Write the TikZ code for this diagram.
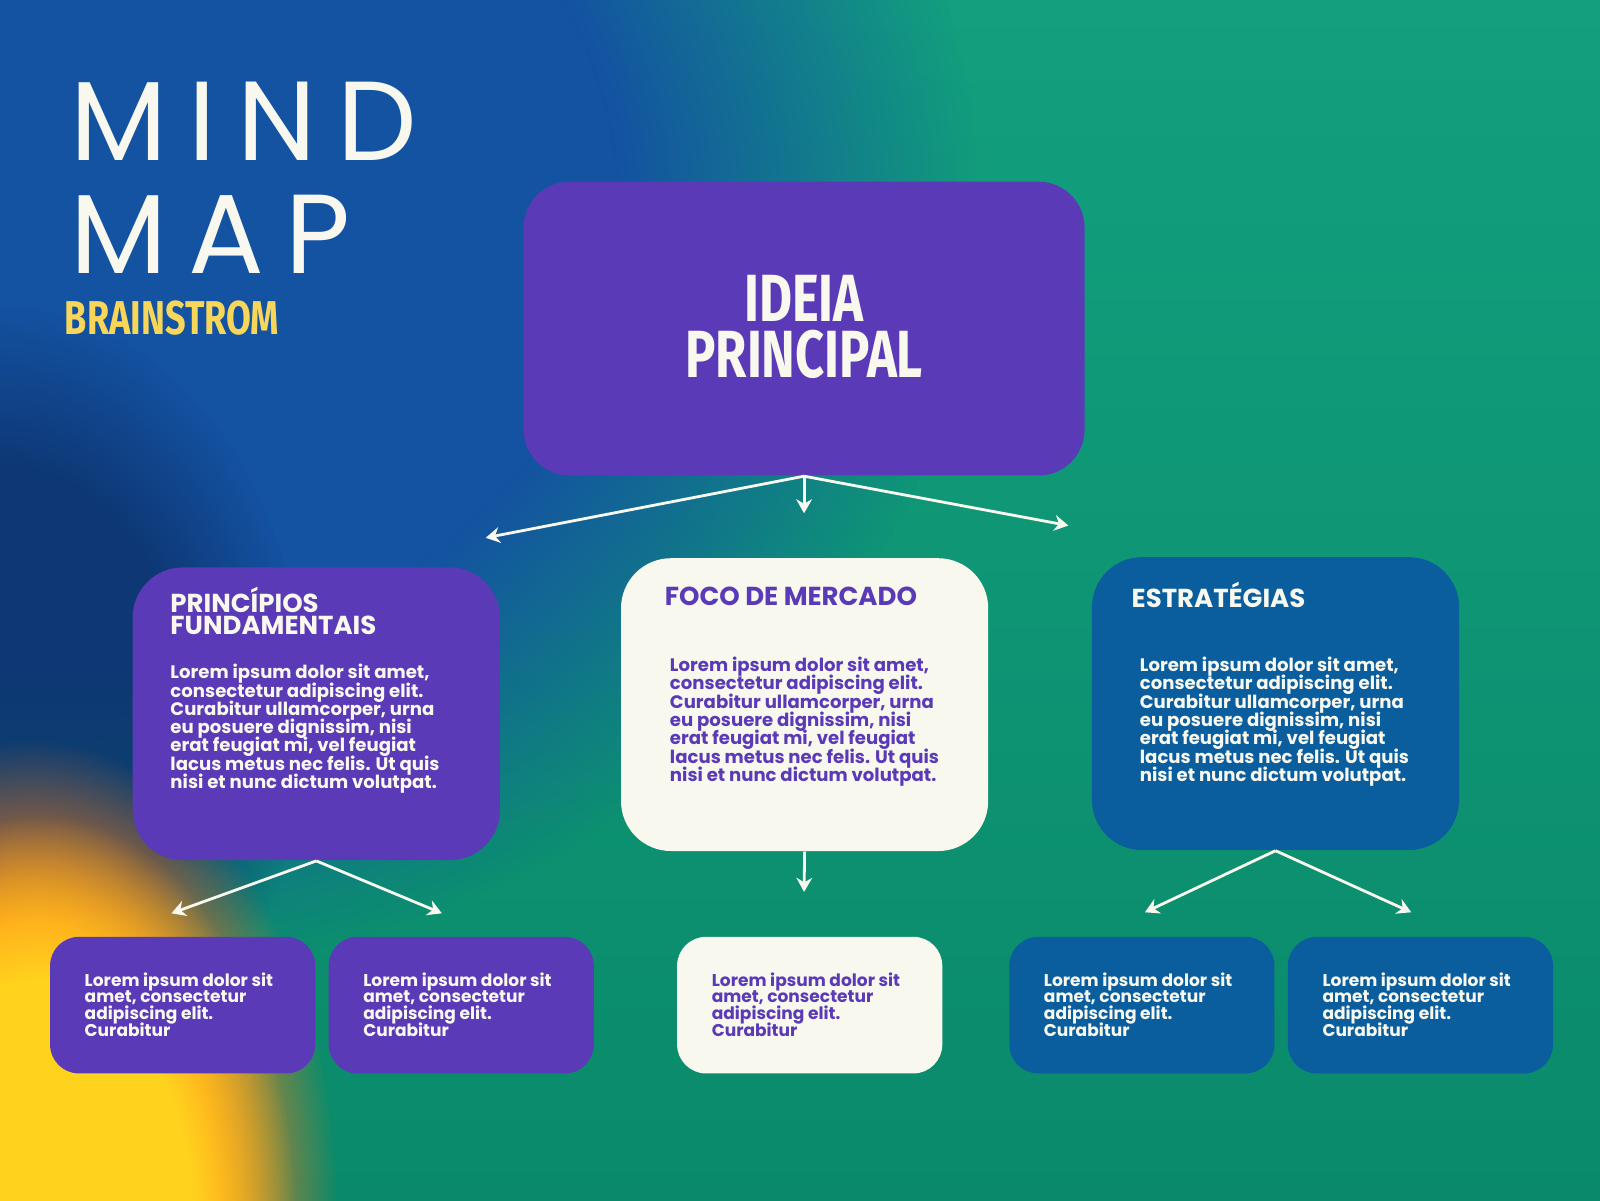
\documentclass[tikz,border=0pt]{standalone}
\usepackage{fontspec}
\usepackage{tikz}
\usetikzlibrary{arrows.meta,fadings}
\setmainfont{Poppins}
\newfontfamily\condfont[FakeStretch=0.76]{Fira Sans}
\newfontfamily\wordfont[LetterSpace=19]{Poppins}
\definecolor{mmpurple}{HTML}{5A3AB6}
\definecolor{mmblue}{HTML}{0A5E9E}
\definecolor{mmcream}{HTML}{F8F8EE}
\definecolor{mmyellow}{HTML}{F7D65A}
\definecolor{bggreen}{HTML}{12A07E}
\definecolor{bgdeep}{HTML}{0A8A6A}
\definecolor{bgblue}{HTML}{1452A2}
\definecolor{bgnavy}{HTML}{0B2D62}
\definecolor{sunorange}{HTML}{FF7A1A}
\definecolor{sunyellow}{HTML}{FFD21E}
\pgfdeclareradialshading{plateaushade}{\pgfpointorigin}{color(0bp)=(white); color(15bp)=(white); color(25bp)=(black); color(50bp)=(black)}
\pgfdeclarefading{plateau}{\pgfuseshading{plateaushade}}

\begin{document}
\lineskiplimit=-\maxdimen
\begin{tikzpicture}[x=0.010204cm,y=-0.010204cm,
		bigbox/.style={rounded corners=0.5cm,minimum width=3.673cm,minimum height=2.929cm,inner sep=0pt},
		smallbox/.style={rounded corners=0.29cm,minimum width=2.653cm,minimum height=1.367cm,inner sep=0pt},
		bigword/.style={inner sep=0pt,text=mmcream,text depth=0pt},
		headtext/.style={anchor=north west,inner sep=0pt,align=left,font=\fontsize{7.4}{6.4}\selectfont\bfseries},
		bodytext/.style={anchor=north west,inner sep=0pt,align=left,font=\fontsize{5.15}{5.2}\selectfont\bfseries},
		smalltext/.style={anchor=north west,inner sep=0pt,align=left,font=\fontsize{4.85}{4.75}\selectfont\bfseries},
		link/.style={draw=mmcream,line width=0.8pt,-{Stealth[length=4pt,width=4.5pt]}}]
	\useasboundingbox (0,0) rectangle (1568,1176);
	\begin{scope}
		\clip (0,0) rectangle (1568,1176);
		\shade[top color=bggreen,bottom color=bgdeep] (0,0) rectangle (1568,1176);
		\fill[bgblue,path fading=plateau] (60,200) ellipse [x radius=900,y radius=760];
		\fill[bgnavy,opacity=0.7,path fading=plateau] (0,700) ellipse [x radius=300,y radius=400];
		\fill[sunorange,path fading=plateau] (30,1176) ellipse [x radius=300,y radius=450];
		\fill[sunyellow,path fading=plateau] (40,1200) ellipse [x radius=250,y radius=400];
	\end{scope}

	\node[bigword,anchor=base west,font=\wordfont\fontsize{32}{32}\selectfont] (mind) at (68,157) {MIND};
	\node[bigword,anchor=base west,font=\wordfont\fontsize{32}{32}\selectfont] (map) at (68,268) {MAP};
	\node[anchor=base west,inner sep=0pt,text=mmyellow,font=\condfont\bfseries\fontsize{13.5}{13.5}\selectfont] (brain) at (63,328) {BRAINSTROM};

	\node[bigbox,fill=mmpurple,rounded corners=0.46cm,minimum width=5.612cm,minimum height=2.939cm] (main) at (788,322) {};
	\node[bigword,anchor=base,font=\condfont\bfseries\fontsize{19}{19}\selectfont] (ideia) at (788,315) {IDEIA};
	\node[bigword,anchor=base,font=\condfont\bfseries\fontsize{19}{19}\selectfont] (princ) at (788,370) {PRINCIPAL};

	\node[bigbox,fill=mmpurple] (prin) at (310,699.5) {};
	\node[bigbox,fill=mmcream] (foco) at (788.5,690.5) {};
	\node[bigbox,fill=mmblue] (estr) at (1250,689.5) {};
	\node[headtext,text=mmcream] (prinT) at ([shift={(37,19)}]prin.north west) {PRINCÍPIOS\\FUNDAMENTAIS};
	\node[bodytext,text=mmcream] (prinB) at ([shift={(37,95)}]prin.north west) {Lorem ipsum dolor sit amet,\\consectetur adipiscing elit.\\Curabitur ullamcorper, urna\\eu posuere dignissim, nisi\\erat feugiat mi, vel feugiat\\lacus metus nec felis. Ut quis\\nisi et nunc dictum volutpat.};
	\node[headtext,text=mmpurple] (focoT) at ([shift={(43,28)}]foco.north west) {FOCO DE MERCADO};
	\node[bodytext,text=mmpurple] (focoB) at ([shift={(48,97)}]foco.north west) {Lorem ipsum dolor sit amet,\\consectetur adipiscing elit.\\Curabitur ullamcorper, urna\\eu posuere dignissim, nisi\\erat feugiat mi, vel feugiat\\lacus metus nec felis. Ut quis\\nisi et nunc dictum volutpat.};
	\node[headtext,text=mmcream] (estrT) at ([shift={(39,24)}]estr.north west) {ESTRATÉGIAS};
	\node[bodytext,text=mmcream] (estrB) at ([shift={(47,98)}]estr.north west) {Lorem ipsum dolor sit amet,\\consectetur adipiscing elit.\\Curabitur ullamcorper, urna\\eu posuere dignissim, nisi\\erat feugiat mi, vel feugiat\\lacus metus nec felis. Ut quis\\nisi et nunc dictum volutpat.};

	\node[smallbox,fill=mmpurple] (prinA) at (179,985) {};
	\node[smallbox,fill=mmpurple] (prinB2) at (452,985) {};
	\node[smallbox,fill=mmcream] (focoA) at (793.5,985) {};
	\node[smallbox,fill=mmblue] (estrA) at (1119,985) {};
	\node[smallbox,fill=mmblue] (estrB2) at (1392,985) {};
	\node[smalltext,text=mmcream] at ([shift={(34,35)}]prinA.north west) {Lorem ipsum dolor sit\\amet, consectetur\\adipiscing elit.\\Curabitur};
	\node[smalltext,text=mmcream] at ([shift={(34,35)}]prinB2.north west) {Lorem ipsum dolor sit\\amet, consectetur\\adipiscing elit.\\Curabitur};
	\node[smalltext,text=mmpurple] at ([shift={(34,35)}]focoA.north west) {Lorem ipsum dolor sit\\amet, consectetur\\adipiscing elit.\\Curabitur};
	\node[smalltext,text=mmcream] at ([shift={(34,35)}]estrA.north west) {Lorem ipsum dolor sit\\amet, consectetur\\adipiscing elit.\\Curabitur};
	\node[smalltext,text=mmcream] at ([shift={(34,35)}]estrB2.north west) {Lorem ipsum dolor sit\\amet, consectetur\\adipiscing elit.\\Curabitur};

	\coordinate (mainL) at (476,527);
	\coordinate (mainC) at (788,503);
	\coordinate (mainR) at (1047,515);
	\coordinate (prinL) at (168,895);
	\coordinate (prinR) at (433,895);
	\coordinate (focoD) at (788,874);
	\coordinate (estrL) at (1122,894);
	\coordinate (estrR) at (1383,894);
	\draw[link] (main.south) -- (mainL);
	\draw[link] (main.south) -- (mainC);
	\draw[link] (main.south) -- (mainR);
	\draw[link] (prin.south) -- (prinL);
	\draw[link] (prin.south) -- (prinR);
	\draw[link] (foco.south) -- (focoD);
	\draw[link] (estr.south) -- (estrL);
	\draw[link] (estr.south) -- (estrR);
\end{tikzpicture}
\end{document}
